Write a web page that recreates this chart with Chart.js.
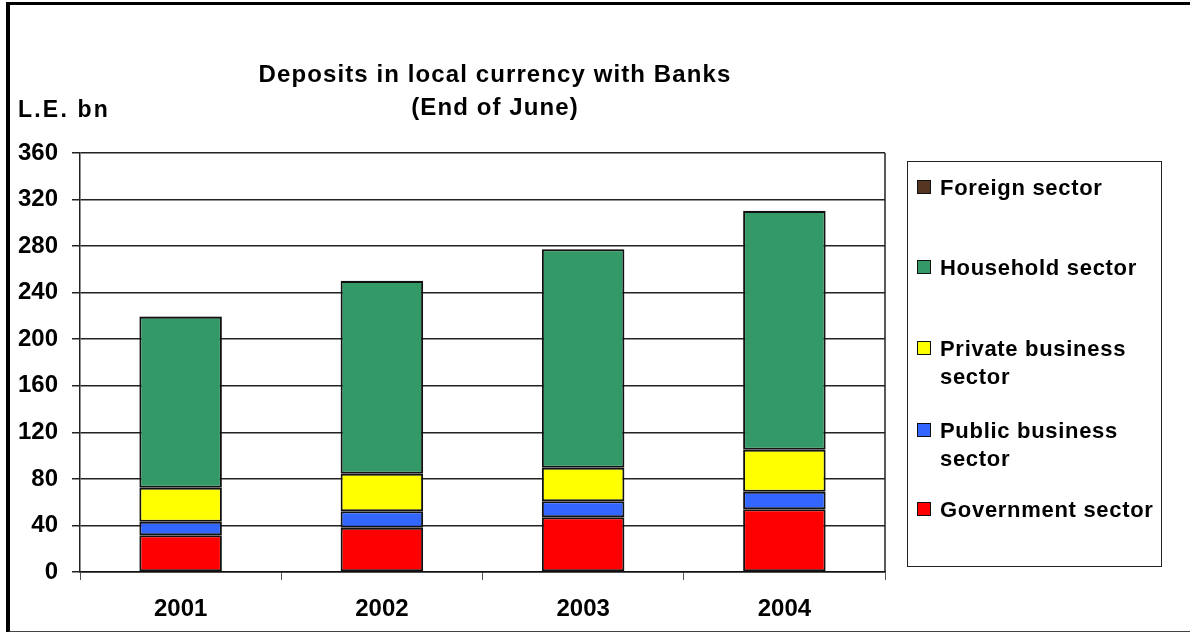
<!DOCTYPE html>
<html>
<head>
<meta charset="utf-8">
<script src="https://cdn.jsdelivr.net/npm/chart.js@4/dist/chart.umd.min.js"></script>
<style>
  html, body { margin: 0; padding: 0; background: #fff; }
  body { width: 1190px; height: 632px; position: relative; overflow: hidden;
         font-family: "Liberation Sans", Arial, sans-serif; font-weight: bold; color: #000; }
  #frame { position: absolute; left: 6px; top: 2px; width: 1190px; height: 626px;
           border-left: 4px solid #000; border-top: 3px solid #000; border-bottom: 2px solid #444; }
  #wrap { position: absolute; left: 0; top: 0; width: 1190px; height: 632px; }
  .title { position: absolute; left: 195px; width: 600px; text-align: center; font-size: 24px;
           line-height: 28px; letter-spacing: 1.1px; }
  #unit { position: absolute; left: 18px; top: 96px; font-size: 23px; line-height: 27px; letter-spacing: 2.2px; }
  #legend { position: absolute; left: 907px; top: 161px; width: 255px; height: 406px;
            border: 1px solid #222; box-sizing: border-box; }
  .item { position: absolute; left: 32px; font-size: 22px; line-height: 28px; letter-spacing: 0.7px; white-space: nowrap; }
  .box { position: absolute; left: -23px; top: 6px; width: 12px; height: 12px; border: 1px solid #111; }
</style>
</head>
<body>
<div id="frame"></div>
<div id="wrap"><canvas id="myChart" width="1190" height="632"></canvas></div>
<div class="title" style="top:60px">Deposits in local currency with Banks</div>
<div class="title" style="top:93px">(End of June)</div>
<div id="unit">L.E. bn</div>
<div id="legend"></div>
<script>
const years = ["2001", "2002", "2003", "2004"];
const yTicks = [0, 40, 80, 120, 160, 200, 240, 280, 320, 360];

//. Deposits by sector, L.E. bn
const government = [31.5, 38.1, 47.0, 53.9];
const publicBusiness = [11.7, 14.0, 13.7, 15.1];
const privateBusiness = [29.2, 32.4, 28.9, 36.1];
const household = [147.0, 165.5, 187.6, 205.0];
const foreign = [0.3, 0.3, 0.3, 0.3];

const sectorNames = ["Government sector", "Public business sector", "Private business sector", "Household sector", "Foreign sector"];
const sectorColors = ["#ff0000", "#3366ff", "#ffff00", "#339966", "#553622"];
const sectorValues = [government, publicBusiness, privateBusiness, household, foreign];

//. Legend lines, top to bottom (two-line names wrap)
const legendLines = [
  { i: 4, top: 12, text: "Foreign sector" },
  { i: 3, top: 92, text: "Household sector" },
  { i: 2, top: 173, text: "Private business<br>sector" },
  { i: 1, top: 255, text: "Public business<br>sector" },
  { i: 0, top: 334, text: "Government sector" },
];

const legend = document.getElementById("legend");
legendLines.forEach((l) => {
  const el = document.createElement("div");
  el.className = "item";
  el.style.top = l.top + "px";
  el.innerHTML = `<span class="box" style="background:${sectorColors[l.i]}"></span>${l.text}`;
  legend.appendChild(el);
});

//. Right side of the plot box (top is the 360 gridline, left is the axis)
const plotBorder = {
  id: "plotBorder",
  afterDatasetsDraw(chart) {
    const a = chart.chartArea, c = chart.ctx;
    c.save();
    c.strokeStyle = "#222";
    c.lineWidth = 1.5;
    c.beginPath();
    c.moveTo(a.right, a.top);
    c.lineTo(a.right, a.bottom);
    c.stroke();
    c.restore();
  },
};

const ctx = document.getElementById("myChart");
new Chart(ctx, {
  type: "bar",
  data: {
    labels: years,
    datasets: sectorValues.map((vals, i) => ({
      label: sectorNames[i],
      data: vals,
      backgroundColor: sectorColors[i],
      borderColor: "#111",
      borderWidth: 2,
      borderSkipped: false,
      barPercentage: 0.41,
      categoryPercentage: 1,
    })),
  },
  options: {
    responsive: false,
    animation: false,
    layout: { padding: { left: 0, right: 305, top: 153, bottom: 0 } },
    plugins: { legend: { display: false }, tooltip: { enabled: false } },
    scales: {
      x: {
        stacked: true,
        afterFit: (s) => { s.height = 60; },
        grid: { offset: true, drawOnChartArea: false, drawTicks: true, tickLength: 8, color: "#555", lineWidth: 1 },
        border: { color: "#111", width: 1.5 },
        ticks: { color: "#000", padding: 15, font: { family: "Liberation Sans", weight: "bold", size: 24 } },
      },
      y: {
        stacked: true,
        min: 0,
        max: 360,
        afterFit: (s) => { s.width = 80; },
        afterBuildTicks: (s) => { s.ticks = yTicks.map((v) => ({ value: v })); },
        grid: { color: "#222", lineWidth: 1.5, tickLength: 8 },
        border: { color: "#222", width: 1.5 },
        ticks: { color: "#000", padding: 14, font: { family: "Liberation Sans", weight: "bold", size: 24 } },
      },
    },
  },
  plugins: [plotBorder],
});
</script>
</body>
</html>
